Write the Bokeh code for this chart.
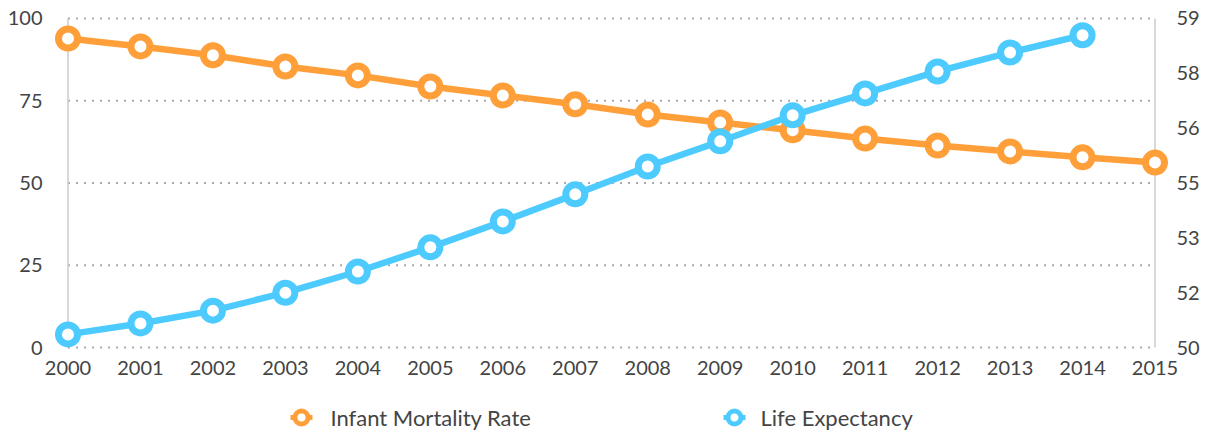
from bokeh.plotting import figure
from bokeh.models import Range1d, LinearAxis, FixedTicker, CustomJSTickFormatter
from bokeh.layouts import column
from bokeh.embed import file_html
from bokeh.resources import INLINE
from bokeh.core.properties import value

# ---- data ----
years = list(range(2000, 2016))
infant_mortality = [93.9, 91.5, 88.8, 85.4, 82.7, 79.3, 76.6, 73.9, 70.8, 68.4,
                    66.0, 63.5, 61.4, 59.6, 57.8, 56.2]
life_years = list(range(2000, 2015))
life_expectancy = [50.36, 50.66, 51.01, 51.50, 52.08, 52.74, 53.45, 54.19, 54.95,
                   55.64, 56.35, 56.95, 57.55, 58.07, 58.54]
left_ticks = [0, 25, 50, 75, 100]
right_ticks = [50, 51.5, 53, 54.5, 56, 57.5, 59]
series_names = ["Infant Mortality Rate", "Life Expectancy"]
colors = ["#FF9F3A", "#4DCBFF"]

FONT = "Lato"
TXT = "#444444"
FS = "20px"

p = figure(width=1202, height=393,
           x_range=Range1d(1999.8, 2015.2), y_range=Range1d(-1.5, 101.5),
           output_backend="svg", toolbar_location=None,
           min_border_left=53, min_border_right=33, min_border_top=13, min_border_bottom=41)
p.extra_y_ranges = {"right": Range1d(50 - 0.135, 59 + 0.135)}
p.outline_line_color = None
p.xgrid.visible = False
p.ygrid.visible = False
p.background_fill_color = "white"
p.border_fill_color = "white"

def style_axis(ax, standoff):
    ax.axis_line_color = None
    ax.major_tick_line_color = None
    ax.minor_tick_line_color = None
    ax.major_tick_out = 0
    ax.major_tick_in = 0
    ax.minor_tick_out = 0
    ax.minor_tick_in = 0
    ax.axis_label_standoff = 0
    ax.major_label_text_font = FONT
    ax.major_label_text_font_size = FS
    ax.major_label_text_color = TXT
    ax.major_label_standoff = standoff

p.xaxis.ticker = FixedTicker(ticks=years)
style_axis(p.xaxis[0], 8)
p.yaxis.ticker = FixedTicker(ticks=left_ticks)
style_axis(p.yaxis[0], 11)

rax = LinearAxis(y_range_name="right", ticker=FixedTicker(ticks=right_ticks),
                 formatter=CustomJSTickFormatter(code="return Math.round(tick).toString();"))
style_axis(rax, 7)
p.add_layout(rax, "right")

# gridlines (dotted) spanning 2000..2015
p.segment(x0=[years[0]] * len(left_ticks), y0=left_ticks,
          x1=[years[-1]] * len(left_ticks), y1=left_ticks,
          line_color="#aaaaaa", line_width=2, line_dash="2 6")
# edge vertical lines
p.segment(x0=[years[0], years[-1]], y0=[0, 0], x1=[years[0], years[-1]], y1=[100, 100],
          line_color="#cccccc", line_width=1.5)

# series
p.line(years, infant_mortality, line_color=colors[0], line_width=6.5)
p.scatter(years, infant_mortality, size=19, fill_color="white",
          line_color=colors[0], line_width=7)
p.line(life_years, life_expectancy, line_color=colors[1], line_width=6.5,
       y_range_name="right")
p.scatter(life_years, life_expectancy, size=19, fill_color="white",
          line_color=colors[1], line_width=7, y_range_name="right")

# ---- legend strip (frame aligned with the main frame; x in page pixels) ----
leg = figure(width=1202, height=41, x_range=Range1d(53, 1169), y_range=Range1d(0, 41),
             output_backend="svg", toolbar_location=None, min_border=0,
             x_axis_location=None, y_axis_location=None)
leg.grid.visible = False
leg.outline_line_color = None
leg.background_fill_color = "white"
leg.border_fill_color = "white"
mx = [301, 734]
tx = [330, 760]
my = [17, 17]
leg.segment(x0=[x - 11 for x in mx], y0=my, x1=[x + 11 for x in mx], y1=my,
            line_color=colors, line_width=5)
leg.scatter(mx, my, size=13, fill_color="white", line_color=colors, line_width=5)
leg.text(x=tx, y=my, text=series_names, text_baseline="middle",
         text_font=value(FONT), text_font_size=value("22px"), text_color=TXT)

layout = column(p, leg, spacing=0)
open("out.html", "w").write(file_html(layout, INLINE))
